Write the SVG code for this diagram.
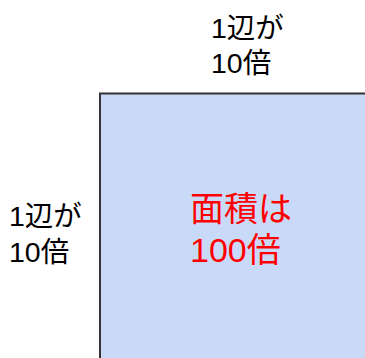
<svg xmlns="http://www.w3.org/2000/svg" width="365" height="358" viewBox="0 0 365 358">
<style>
text{font-family:"Liberation Sans","Noto Sans CJK JP",sans-serif;font-size:28.5px;fill:#000}
.red{fill:#ff0000;font-size:34px}
</style>
<rect width="365" height="358" fill="#ffffff"/>
<g id="square">
<rect x="100" y="93.5" width="275" height="275" fill="#c9daf8" stroke="#333333" stroke-width="2"/>
</g>
<g id="top-label">
<text x="211" y="38">1辺が</text>
<text x="211" y="73">10倍</text>
</g>
<g id="left-label">
<text x="9" y="226">1辺が</text>
<text x="9" y="262">10倍</text>
</g>
<g id="area-label">
<text class="red" x="190" y="221">面積は</text>
<text class="red" x="190" y="262">100倍</text>
</g>
</svg>
